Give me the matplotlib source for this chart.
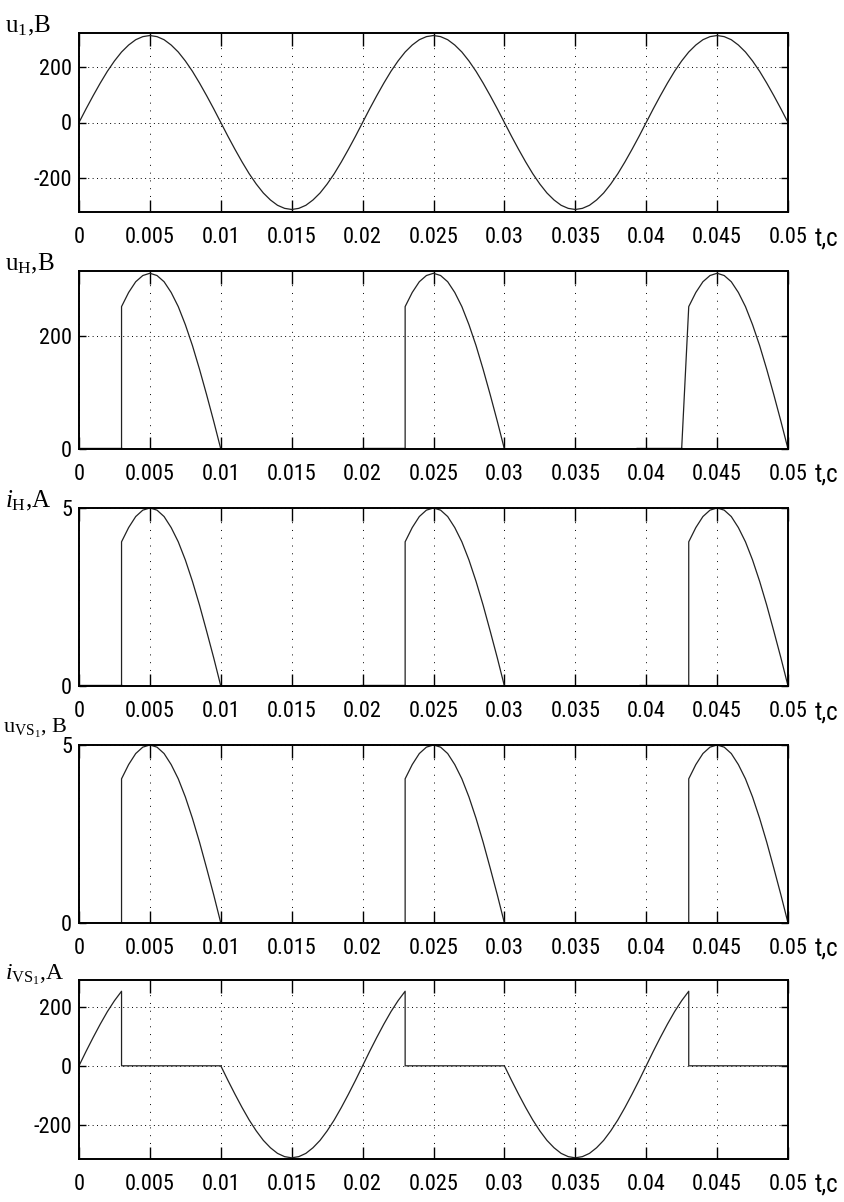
import matplotlib
matplotlib.use('Agg')
import numpy as np
import matplotlib.pyplot as plt

t_u1 = np.linspace(0, 0.05, 101)
u1 = [0, 49, 96, 141, 183, 220, 252, 277, 296, 307, 311, 307, 296, 277, 252, 220, 183, 141, 96, 49,
      0, -49, -96, -141, -183, -220, -252, -277, -296, -307, -311, -307, -296, -277, -252, -220, -183, -141, -96, -49,
      0, 49, 96, 141, 183, 220, 252, 277, 296, 307, 311, 307, 296, 277, 252, 220, 183, 141, 96, 49,
      0, -49, -96, -141, -183, -220, -252, -277, -296, -307, -311, -307, -296, -277, -252, -220, -183, -141, -96, -49,
      0, 49, 96, 141, 183, 220, 252, 277, 296, 307, 311, 307, 296, 277, 252, 220, 183, 141, 96, 49, 0]

# load voltage u_H (V)
t_uh = [0, 0.003, 0.003, 0.0035, 0.004, 0.0045, 0.005, 0.0055, 0.006, 0.0065, 0.007, 0.0075, 0.008, 0.0085, 0.009, 0.0095, 0.01,
        0.023, 0.023, 0.0235, 0.024, 0.0245, 0.025, 0.0255, 0.026, 0.0265, 0.027, 0.0275, 0.028, 0.0285, 0.029, 0.0295, 0.03,
        0.0425, 0.043, 0.0435, 0.044, 0.0445, 0.045, 0.0455, 0.046, 0.0465, 0.047, 0.0475, 0.048, 0.0485, 0.049, 0.0495, 0.05]
u_h = [0, 0, 252, 277, 296, 307, 311, 307, 296, 277, 252, 220, 183, 141, 96, 49, 0,
       0, 252, 277, 296, 307, 311, 307, 296, 277, 252, 220, 183, 141, 96, 49, 0,
       0, 252, 277, 296, 307, 311, 307, 296, 277, 252, 220, 183, 141, 96, 49, 0]

# load current i_H (A) and thyristor voltage u_VS1 (same shape)
t_ih = [0, 0.003, 0.003, 0.0035, 0.004, 0.0045, 0.005, 0.0055, 0.006, 0.0065, 0.007, 0.0075, 0.008, 0.0085, 0.009, 0.0095, 0.01,
        0.023, 0.023, 0.0235, 0.024, 0.0245, 0.025, 0.0255, 0.026, 0.0265, 0.027, 0.0275, 0.028, 0.0285, 0.029, 0.0295, 0.03,
        0.043, 0.043, 0.0435, 0.044, 0.0445, 0.045, 0.0455, 0.046, 0.0465, 0.047, 0.0475, 0.048, 0.0485, 0.049, 0.0495, 0.05]
i_h = [0, 0, 4.05, 4.45, 4.76, 4.94, 5.0, 4.94, 4.76, 4.45, 4.05, 3.54, 2.94, 2.27, 1.54, 0.79, 0,
       0, 4.05, 4.45, 4.76, 4.94, 5.0, 4.94, 4.76, 4.45, 4.05, 3.54, 2.94, 2.27, 1.54, 0.79, 0,
       0, 4.05, 4.45, 4.76, 4.94, 5.0, 4.94, 4.76, 4.45, 4.05, 3.54, 2.94, 2.27, 1.54, 0.79, 0]
u_vs = list(i_h)

# thyristor current i_VS1 (A)
t_ivs = [0, 0.0005, 0.001, 0.0015, 0.002, 0.0025, 0.003, 0.003, 0.01,
         0.0105, 0.011, 0.0115, 0.012, 0.0125, 0.013, 0.0135, 0.014, 0.0145, 0.015,
         0.0155, 0.016, 0.0165, 0.017, 0.0175, 0.018, 0.0185, 0.019, 0.0195, 0.02,
         0.0205, 0.021, 0.0215, 0.022, 0.0225, 0.023, 0.023, 0.03,
         0.0305, 0.031, 0.0315, 0.032, 0.0325, 0.033, 0.0335, 0.034, 0.0345, 0.035,
         0.0355, 0.036, 0.0365, 0.037, 0.0375, 0.038, 0.0385, 0.039, 0.0395, 0.04,
         0.0405, 0.041, 0.0415, 0.042, 0.0425, 0.043, 0.043, 0.05]
i_vs = [0, 49, 96, 141, 183, 220, 252, 0, 0,
        -49, -96, -141, -183, -220, -252, -277, -296, -307, -311,
        -307, -296, -277, -252, -220, -183, -141, -96, -49, 0,
        49, 96, 141, 183, 220, 252, 0, 0,
        -49, -96, -141, -183, -220, -252, -277, -296, -307, -311,
        -307, -296, -277, -252, -220, -183, -141, -96, -49, 0,
        49, 96, 141, 183, 220, 252, 0, 0]

# short intervals where the trace lies on zero with a heavy line
thick_uh = [(0, 0.003), (0.0198, 0.023), (0.0393, 0.0425)]
thick_ih = [(0, 0.003), (0.0198, 0.023), (0.0395, 0.043)]

xticks = [0, 0.005, 0.01, 0.015, 0.02, 0.025, 0.03, 0.035, 0.04, 0.045, 0.05]
xticklabels = ['0', '0.005', '0.01', '0.015', '0.02', '0.025', '0.03', '0.035', '0.04', '0.045', '0.05']

ylabels = [r'u$_{\mathrm{1}}$,В', r'u$_{\mathrm{Н}}$,В', r'$i_{\mathrm{Н}}$,А',
           r'u$_{\mathrm{VS}_{1}}$, В', r'$i_{\mathrm{VS}_{1}}$,А']
label_size = [18, 18, 18, 16, 17]
label_x = [5, 5, 5, 3, 5]
label_dy = [0, 0, 0, 11, 0]
ylims = [(-320, 320), (0, 315), (0, 5), (0, 5), (-315, 290)]
yticks = [[-200, 0, 200], [0, 200], [0, 5], [0, 5], [-200, 0, 200]]

plt.rcParams['mathtext.fontset'] = 'custom'
plt.rcParams['mathtext.rm'] = 'Liberation Serif'
plt.rcParams['mathtext.it'] = 'Liberation Serif:italic'
plt.rcParams['mathtext.bf'] = 'Liberation Serif:bold'

W, H = 845, 1202
fig = plt.figure(figsize=(W / 100, H / 100), dpi=100)

tops = [33, 271, 508, 745, 980]
bots = [212, 449, 686, 923, 1159]
left, right = 79, 788

series = [(t_u1, u1), (t_uh, u_h), (t_ih, i_h), (t_ih, u_vs), (t_ivs, i_vs)]
thick = [None, thick_uh, thick_ih, None, None]
tick_font = dict(family=['Roboto Condensed', 'Liberation Sans'], size=16)

for k in range(5):
    ax = fig.add_axes([left / W, 1 - bots[k] / H, (right - left) / W, (bots[k] - tops[k]) / H])
    tt, vv = series[k]
    ax.plot(tt, vv, color='#222222', lw=0.9)
    if thick[k]:
        for s, e in thick[k]:
            ax.plot([s, e], [0, 0], color='black', lw=2.4, solid_capstyle='butt')
    ax.set_xlim(0, 0.05)
    ax.set_ylim(*ylims[k])
    ax.set_xticks(xticks)
    ax.set_xticklabels(xticklabels, fontdict=tick_font)
    ax.set_yticks(yticks[k])
    ax.set_yticklabels([str(v) for v in yticks[k]], fontdict=tick_font)
    ax.grid(axis='x', color='black', lw=0.7, linestyle=(0, (1, 7)))
    ax.grid(axis='y', color='black', lw=0.7, linestyle=(0, (1, 3.5)))
    ax.tick_params(axis='x', direction='in', length=9, width=1, pad=11, top=True, colors='black')
    ax.tick_params(axis='y', direction='in', length=5, width=1, pad=5, right=True, colors='black')
    for sp in ax.spines.values():
        sp.set_linewidth(1.4)
        sp.set_color('black')
    # axis names in the top-left corner, time label at the right end of the tick row
    fig.text(label_x[k] / W, 1 - (tops[k] - 1 - label_dy[k]) / H, ylabels[k], family='Liberation Serif',
             size=label_size[k], ha='left', va='baseline')
    fig.text(815 / W, 1 - (bots[k] + 27) / H, 't,с', family=['Roboto Condensed', 'Liberation Sans'],
             size=18, ha='left', va='center')

fig.savefig('out.png', dpi=100)
